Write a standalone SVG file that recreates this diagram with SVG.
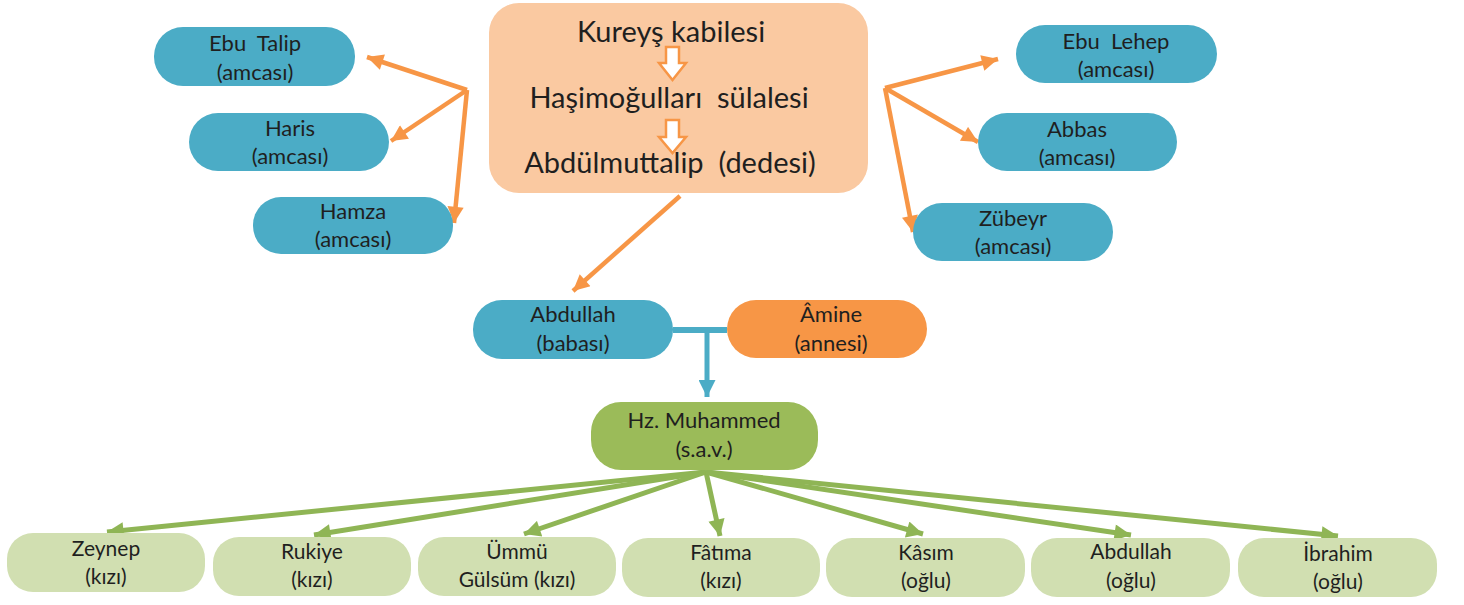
<svg xmlns="http://www.w3.org/2000/svg" width="1464" height="605" viewBox="0 0 1464 605">
  <defs>
    <style>
      text { font-family: Lato, "Liberation Sans", sans-serif; fill: #1f1f1f; text-anchor: middle; white-space: pre; }
      .t { font-size: 22px; }
      .b { font-size: 21px; }
      .big { font-size: 29px; }
      .blue { fill: #4bacc6; }
      .orange { fill: #f79646; }
      .green { fill: #9bbb59; }
      .lgreen { fill: #d1dfb1; }
      .peach { fill: #fac9a1; }
      .oarrow { stroke: #f79646; stroke-width: 4.5; fill: none; marker-end: url(#ho); }
      .garrow { stroke: #8fb555; stroke-width: 5; fill: none; marker-end: url(#hg); }
      .bline { stroke: #4bacc6; stroke-width: 6; fill: none; }
      .small { fill: #ffffff; stroke: #f79646; stroke-width: 2.5; }
    </style>
    <marker id="ho" viewBox="0 0 10 10" refX="10" refY="5" markerWidth="4" markerHeight="3.6" orient="auto" markerUnits="strokeWidth">
      <path d="M0,0 L10,5 L0,10 z" fill="#f79646"/>
    </marker>
    <marker id="hg" viewBox="0 0 10 10" refX="10" refY="5" markerWidth="3.8" markerHeight="3.3" orient="auto" markerUnits="strokeWidth">
      <path d="M0,0 L10,5 L0,10 z" fill="#8fb555"/>
    </marker>
    <marker id="hb" viewBox="0 0 10 10" refX="10" refY="5" markerWidth="3.4" markerHeight="3.4" orient="auto" markerUnits="strokeWidth">
      <path d="M0,0 L10,5 L0,10 z" fill="#4bacc6"/>
    </marker>
  </defs>

  <g id="connectors">
    <line class="oarrow" x1="467" y1="90" x2="367" y2="57"/>
    <line class="oarrow" x1="467" y1="90" x2="391" y2="141"/>
    <line class="oarrow" x1="467" y1="90" x2="454" y2="223"/>
    <line class="oarrow" x1="885" y1="88" x2="998" y2="59"/>
    <line class="oarrow" x1="885" y1="88" x2="978" y2="142"/>
    <line class="oarrow" x1="885" y1="88" x2="913" y2="232"/>
    <line class="oarrow" x1="680" y1="196" x2="573" y2="291"/>
    <line class="bline" x1="673" y1="330" x2="727" y2="330"/>
    <line stroke="#4bacc6" stroke-width="5" x1="707" y1="330" x2="707" y2="397" marker-end="url(#hb)"/>
    <line class="garrow" x1="706" y1="472" x2="107" y2="532"/>
    <line class="garrow" x1="706" y1="472" x2="314" y2="535"/>
    <line class="garrow" x1="706" y1="472" x2="524" y2="534"/>
    <line class="garrow" x1="706" y1="472" x2="720" y2="536"/>
    <line class="garrow" x1="706" y1="472" x2="923" y2="534"/>
    <line class="garrow" x1="706" y1="472" x2="1131" y2="535"/>
    <line class="garrow" x1="706" y1="472" x2="1338" y2="536"/>
  </g>

  <g id="kureys">
    <rect class="peach" x="489" y="3" width="379" height="190" rx="30"/>
    <text class="big" x="671" y="42">Kureyş kabilesi</text>
    <path class="small" d="M666,47 h13 v16 h7 l-13.5,17 l-13.5,-17 h7 z"/>
    <text class="big" x="669" y="108">Haşimoğulları  sülalesi</text>
    <path class="small" d="M666,120 h13 v17 h7 l-13.5,16 l-13.5,-16 h7 z"/>
    <text class="big" x="670" y="173">Abdülmuttalip  (dedesi)</text>
  </g>

  <g id="ebu-talip">
    <rect class="blue" x="154" y="27" width="201" height="59" rx="29"/>
    <text class="t" x="255" y="51">Ebu  Talip</text>
    <text class="t" x="255" y="80">(amcası)</text>
  </g>
  <g id="haris">
    <rect class="blue" x="189" y="113" width="200" height="58" rx="29"/>
    <text class="t" x="290" y="136">Haris</text>
    <text class="t" x="290" y="164">(amcası)</text>
  </g>
  <g id="hamza">
    <rect class="blue" x="253" y="197" width="200" height="57" rx="28"/>
    <text class="t" x="353" y="219">Hamza</text>
    <text class="t" x="353" y="247">(amcası)</text>
  </g>
  <g id="ebu-lehep">
    <rect class="blue" x="1016" y="25" width="201" height="58" rx="29"/>
    <text class="t" x="1116" y="49">Ebu  Lehep</text>
    <text class="t" x="1116" y="77">(amcası)</text>
  </g>
  <g id="abbas">
    <rect class="blue" x="978" y="113" width="199" height="58" rx="29"/>
    <text class="t" x="1077" y="137">Abbas</text>
    <text class="t" x="1077" y="165">(amcası)</text>
  </g>
  <g id="zubeyr">
    <rect class="blue" x="913" y="203" width="200" height="58" rx="29"/>
    <text class="t" x="1013" y="226">Zübeyr</text>
    <text class="t" x="1013" y="254">(amcası)</text>
  </g>

  <g id="abdullah-babasi">
    <rect class="blue" x="473" y="300" width="200" height="59" rx="29"/>
    <text class="t" x="573" y="322">Abdullah</text>
    <text class="t" x="573" y="351">(babası)</text>
  </g>
  <g id="amine">
    <rect class="orange" x="727" y="300" width="200" height="58" rx="29"/>
    <text class="t" x="831" y="322">Âmine</text>
    <text class="t" x="831" y="351">(annesi)</text>
  </g>

  <g id="muhammed">
    <rect class="green" x="591" y="402" width="227" height="68" rx="30"/>
    <text class="t" x="704" y="428">Hz. Muhammed</text>
    <text class="t" x="704" y="457">(s.a.v.)</text>
  </g>

  <g id="zeynep">
    <rect class="lgreen" x="7" y="533" width="198" height="59" rx="26"/>
    <text class="b" x="106" y="556">Zeynep</text>
    <text class="b" x="106" y="584">(kızı)</text>
  </g>
  <g id="rukiye">
    <rect class="lgreen" x="213" y="537" width="198" height="59" rx="26"/>
    <text class="b" x="312" y="559">Rukiye</text>
    <text class="b" x="312" y="587">(kızı)</text>
  </g>
  <g id="ummu-gulsum">
    <rect class="lgreen" x="418" y="537" width="198" height="59" rx="26"/>
    <text class="b" x="517" y="559">Ümmü</text>
    <text class="b" x="517" y="587">Gülsüm (kızı)</text>
  </g>
  <g id="fatima">
    <rect class="lgreen" x="622" y="538" width="198" height="59" rx="26"/>
    <text class="b" x="721" y="560">Fâtıma</text>
    <text class="b" x="721" y="588">(kızı)</text>
  </g>
  <g id="kasim">
    <rect class="lgreen" x="826" y="538" width="199" height="59" rx="26"/>
    <text class="b" x="926" y="560">Kâsım</text>
    <text class="b" x="926" y="588">(oğlu)</text>
  </g>
  <g id="abdullah-oglu">
    <rect class="lgreen" x="1031" y="538" width="199" height="59" rx="26"/>
    <text class="b" x="1131" y="559">Abdullah</text>
    <text class="b" x="1131" y="588">(oğlu)</text>
  </g>
  <g id="ibrahim">
    <rect class="lgreen" x="1238" y="538" width="199" height="59" rx="26"/>
    <text class="b" x="1338" y="561">İbrahim</text>
    <text class="b" x="1338" y="589">(oğlu)</text>
  </g>
</svg>
